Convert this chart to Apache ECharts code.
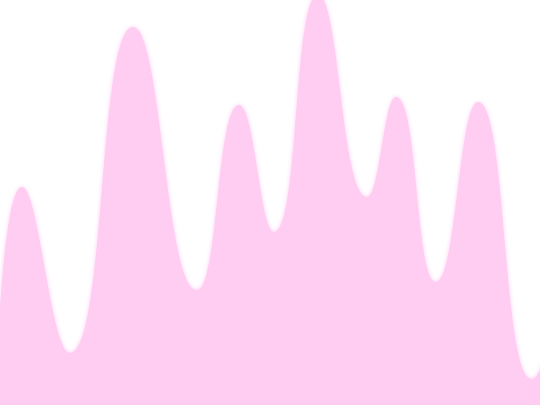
<!DOCTYPE html>
<html>
<head>
<meta charset="utf-8">
<script src="https://cdn.jsdelivr.net/npm/echarts@6/dist/echarts.min.js"></script>
<style>
  html, body { margin: 0; padding: 0; background: #ffffff; }
  #chart { width: 540px; height: 405px; }
</style>
</head>
<body>
<div id="chart"></div>
<script>
// Wave points: x positions and heights (points past the edges are clipped)
const xPositions = [-4, 22, 70, 133, 197, 239, 274, 318, 367, 396, 436, 478, 532, 575];
const heights = [10, 218, 52, 378, 115, 300, 173, 410, 208, 308, 123, 303, 26, 200];

const points = xPositions.map((x, i) => [x, heights[i]]);

echarts.init(document.getElementById("chart")).setOption({
    animation: false,
    grid: { left: 0, right: 0, top: 0, bottom: 0 },
    xAxis: { type: 'value', min: 0, max: 540, show: false },
    yAxis: { type: 'value', min: 0, max: 405, show: false },
    series: [{
        type: 'line',
        smooth: true,
        symbol: 'none',
        clip: true,
        lineStyle: { width: 0 },
        areaStyle: {
            color: '#ffccf2',
            opacity: 1,
            shadowBlur: 4,
            shadowColor: '#ffccf2'
        },
        data: points
    }]
});
</script>
</body>
</html>
